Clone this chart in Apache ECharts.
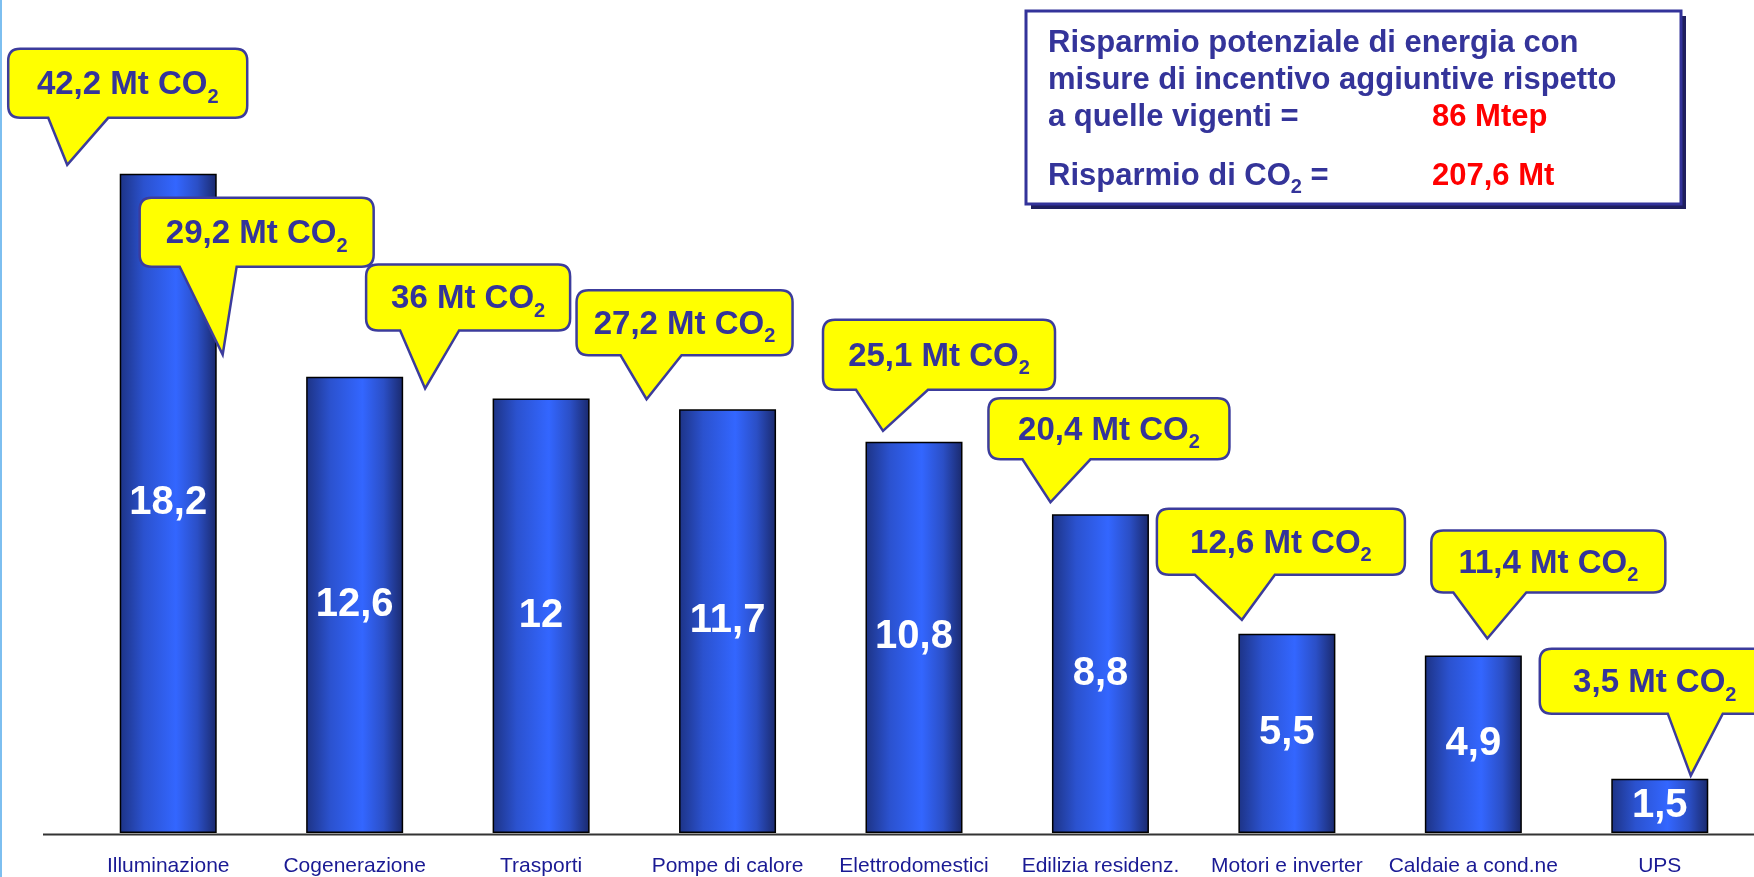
<!DOCTYPE html>
<html>
<head>
<meta charset="utf-8">
<script src="https://cdn.jsdelivr.net/npm/echarts@6/dist/echarts.min.js"></script>
<style>
html,body{margin:0;padding:0;background:#fff;}
#chart{width:1754px;height:877px;}
</style>
</head>
<body>
<div id="chart"></div>
<script>
// ---- data ----
const CATEGORIES = ['Illuminazione','Cogenerazione','Trasporti','Pompe di calore','Elettrodomestici','Edilizia residenz.','Motori e inverter','Caldaie a cond.ne','UPS'];
const MTEP_SAVINGS = [18.2, 12.6, 12, 11.7, 10.8, 8.8, 5.5, 4.9, 1.5];
const CO2_SAVINGS = [42.2, 29.2, 36, 27.2, 25.1, 20.4, 12.6, 11.4, 3.5];
const TOTAL_ENERGY = '86 Mtep';
const TOTAL_CO2 = '207,6 Mt';
const INFO_LINES = ['Risparmio potenziale di energia con', 'misure di incentivo aggiuntive rispetto', 'a quelle vigenti ='];

// ---- callout layout (offsets relative to bar top centre) ----
const CALLOUT_LAYOUT = [
  {box:[-160,-125,239,69], tip:[-101,-9],  base:[-120,-60]},
  {box:[-215,-179,234,69], tip:[-132,-22], base:[-175,-118]},
  {box:[-175,-134,204,66], tip:[-116,-10], base:[-141,-82]},
  {box:[-151,-119,216,65], tip:[-81,-10],  base:[-107,-46]},
  {box:[-91,-122,232,70],  tip:[-31,-11],  base:[-58,14]},
  {box:[-112,-116,241,61], tip:[-50,-12],  base:[-78,-10]},
  {box:[-130,-125,248,66], tip:[-45,-14],  base:[-92,-12]},
  {box:[-42,-125,234,62],  tip:[14,-17],   base:[-20,53]},
  {box:[-120,-130,230,65], tip:[31,-3],    base:[8,63]}
];

const fmt = v => String(v).replace('.', ',');
const FONT = '"Liberation Sans", Arial, sans-serif';
const NAVY = '#34349a';

const chart = echarts.init(document.getElementById('chart'), null, {renderer:'canvas'});

function calloutPath(bx, by, w, h, r, b1, b2, tx, ty) {
  return 'M' + (bx + r) + ',' + by +
    ' L' + (bx + w - r) + ',' + by +
    ' Q' + (bx + w) + ',' + by + ' ' + (bx + w) + ',' + (by + r) +
    ' L' + (bx + w) + ',' + (by + h - r) +
    ' Q' + (bx + w) + ',' + (by + h) + ' ' + (bx + w - r) + ',' + (by + h) +
    ' L' + b2 + ',' + (by + h) +
    ' L' + tx + ',' + ty +
    ' L' + b1 + ',' + (by + h) +
    ' L' + (bx + r) + ',' + (by + h) +
    ' Q' + bx + ',' + (by + h) + ' ' + bx + ',' + (by + h - r) +
    ' L' + bx + ',' + (by + r) +
    ' Q' + bx + ',' + by + ' ' + (bx + r) + ',' + by + ' Z';
}

const barGradient = new echarts.graphic.LinearGradient(0, 0, 1, 0, [
  {offset: 0, color: '#1d3385'},
  {offset: 0.25, color: '#2b52cf'},
  {offset: 0.58, color: '#3366ff'},
  {offset: 0.8, color: '#2b4fc6'},
  {offset: 1, color: '#1a296c'}
]);

const option = {
  animation: false,
  backgroundColor: '#ffffff',
  grid: {left: 75, right: 1, top: 0, bottom: 43},
  xAxis: {
    type: 'category',
    data: CATEGORIES,
    axisLine: {show: false},
    axisTick: {show: false},
    axisLabel: {
      margin: 23, fontSize: 21, lineHeight: 21, color: '#1a1a94',
      fontFamily: FONT, interval: 0
    }
  },
  yAxis: {type: 'value', min: 0, max: 23, show: false, splitLine: {show: false}},
  graphic: [
    {type: 'rect', left: 0, top: 0, shape: {x: 0, y: 0, width: 2, height: 877}, style: {fill: '#7dbff0'}, z: 0},
    {type: 'line', shape: {x1: 43, y1: 834.5, x2: 1754, y2: 834.5}, style: {stroke: '#333333', lineWidth: 2}, z: 0},
    // info box
    {type: 'rect', shape: {x: 1031, y: 16, width: 655, height: 193}, style: {fill: '#1f1f5e'}, z: 10},
    {type: 'rect', shape: {x: 1026, y: 11, width: 655, height: 193}, style: {fill: '#ffffff', stroke: '#33339a', lineWidth: 3}, z: 11},
    {type: 'text', x: 1048, y: 43, style: {text: INFO_LINES[0], font: 'bold 31px ' + FONT, fill: NAVY, verticalAlign: 'middle'}, z: 12},
    {type: 'text', x: 1048, y: 80, style: {text: INFO_LINES[1], font: 'bold 31px ' + FONT, fill: NAVY, verticalAlign: 'middle'}, z: 12},
    {type: 'text', x: 1048, y: 117, style: {text: INFO_LINES[2], font: 'bold 31px ' + FONT, fill: NAVY, verticalAlign: 'middle'}, z: 12},
    {type: 'text', x: 1432, y: 117, style: {text: TOTAL_ENERGY, font: 'bold 31px ' + FONT, fill: '#ff0000', verticalAlign: 'middle'}, z: 12},
    {type: 'text', x: 1048, y: 176, style: {
      text: '{b|Risparmio di CO}{s|2}{b| =}', verticalAlign: 'middle',
      rich: {
        b: {font: 'bold 31px ' + FONT, fill: NAVY, lineHeight: 38},
        s: {font: 'bold 20px ' + FONT, fill: NAVY, lineHeight: 20, padding: [22, 0, 0, 0]}
      }
    }, z: 12},
    {type: 'text', x: 1432, y: 176, style: {text: TOTAL_CO2, font: 'bold 31px ' + FONT, fill: '#ff0000', verticalAlign: 'middle'}, z: 12}
  ],
  series: [
    {
      type: 'bar',
      data: MTEP_SAVINGS,
      barWidth: 97,
      itemStyle: {color: barGradient, borderColor: '#000000', borderWidth: 1.5},
      label: {
        show: true, position: 'inside', color: '#ffffff',
        fontSize: 40, fontWeight: 'bold', fontFamily: FONT,
        formatter: p => fmt(p.value)
      },
      z: 2
    },
    {
      type: 'custom',
      data: CO2_SAVINGS.map((c, i) => [i, MTEP_SAVINGS[i], c]),
      z: 5,
      clip: false,
      renderItem: function (params, api) {
        const idx = params.dataIndex;
        const pt = api.coord([api.value(0), api.value(1)]);
        const L = CALLOUT_LAYOUT[idx];
        const bx = pt[0] + L.box[0], by = pt[1] + L.box[1], w = L.box[2], h = L.box[3];
        const d = calloutPath(bx, by, w, h, 12, pt[0] + L.base[0], pt[0] + L.base[1], pt[0] + L.tip[0], pt[1] + L.tip[1]);
        return {
          type: 'group',
          children: [
            {type: 'path', shape: {pathData: d}, style: {fill: '#ffff00', stroke: '#3c3c9c', lineWidth: 2.5}},
            {type: 'text', x: bx + w / 2, y: by + h / 2 + 2, style: {
              text: '{a|' + fmt(api.value(2)) + ' Mt CO}{s|2}',
              align: 'center', verticalAlign: 'middle',
              rich: {
                a: {font: 'bold 33px ' + FONT, fill: NAVY, lineHeight: 40},
                s: {font: 'bold 20px ' + FONT, fill: NAVY, lineHeight: 20, padding: [24, 0, 0, 0]}
              }
            }}
          ]
        };
      }
    }
  ]
};
chart.setOption(option);
</script>
</body>
</html>
